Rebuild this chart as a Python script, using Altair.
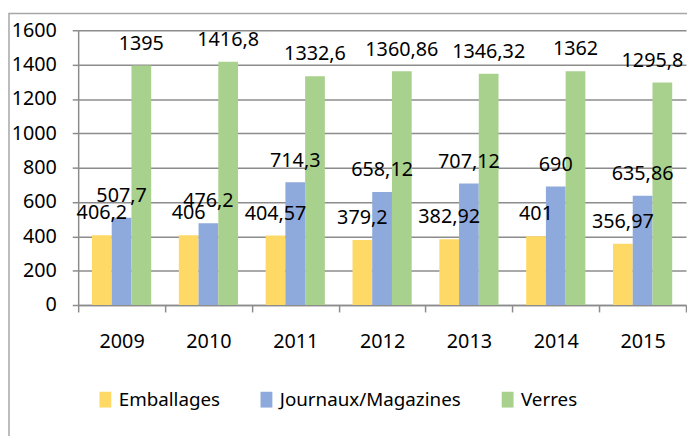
import altair as alt
import pandas as pd

years = ["2009", "2010", "2011", "2012", "2013", "2014", "2015"]
series = ["Emballages", "Journaux/Magazines", "Verres"]
emballages = [406.2, 406, 404.57, 379.2, 382.92, 401, 356.97]
journaux = [507.7, 476.2, 714.3, 658.12, 707.12, 690, 635.86]
verres = [1395, 1416.8, 1332.6, 1360.86, 1346.32, 1362, 1295.8]
colors = ["#FFD966", "#8EA9DB", "#A9D18E"]
y_ticks = [0, 200, 400, 600, 800, 1000, 1200, 1400, 1600]

rows = []
for s, vals in zip(series, [emballages, journaux, verres]):
    for yr, v in zip(years, vals):
        rows.append({"Annee": yr, "Serie": s, "Valeur": v,
                     "Label": f"{v:g}".replace(".", ",")})
df = pd.DataFrame(rows)

FONT = "Noto Sans"
FS = 20
GRID = "#8c8c8c"

x = alt.X("Annee:N", title=None, sort=years,
          scale=alt.Scale(paddingInner=0, paddingOuter=0),
          axis=alt.Axis(labelAngle=0, tickBand="extent", tickSize=7,
                        labelPadding=20, labelFont=FONT, labelFontSize=FS,
                        labelColor="black", domainColor=GRID, tickColor=GRID,
                        domainWidth=1.5, tickWidth=1.5, grid=False))
xo = alt.XOffset("Serie:N", sort=series,
                 scale=alt.Scale(paddingInner=0, paddingOuter=0.7))
y = alt.Y("Valeur:Q", title=None,
          scale=alt.Scale(domain=[0, 1600], nice=False),
          axis=alt.Axis(values=y_ticks, format="d", tickSize=6, labelPadding=16,
                        labelFont=FONT, labelFontSize=FS, labelColor="black",
                        domainColor=GRID, tickColor=GRID, gridColor=GRID,
                        domainWidth=1.5, tickWidth=1.5, gridWidth=1.5,
                        grid=True))

base = alt.Chart(df)

bars = base.mark_bar().encode(
    x=x, xOffset=xo, y=y,
    color=alt.Color("Serie:N", sort=series,
                    scale=alt.Scale(domain=series, range=colors),
                    legend=alt.Legend(orient="none", legendX=18, legendY=364,
                                      direction="horizontal", title=None,
                                      symbolType="M-0.75,-1H0.75V1H-0.75Z",
                                      symbolSize=256, symbolStrokeWidth=0,
                                      labelFont=FONT, labelFontSize=19,
                                      labelColor="black", labelOffset=4,
                                      columnPadding=37, padding=0,
                                      labelLimit=400)),
)

edge = (alt.datum.Annee == "2015") & (alt.datum.Serie == "Verres")

labels = base.mark_text(font=FONT, fontSize=FS, color="black",
                        baseline="alphabetic", dy=-16).encode(
    x=x, xOffset=xo, y=y, text="Label:N").transform_filter(~edge)

labels_edge = base.mark_text(font=FONT, fontSize=FS, color="black",
                             baseline="alphabetic", dy=-16, dx=-10).encode(
    x=x, xOffset=xo, y=y, text="Label:N").transform_filter(edge)

border = alt.Chart(alt.Data(values=[{"a": 1}])).mark_rect(
    filled=False, stroke="#a6a6a6", strokeWidth=1.5).encode(
    x=alt.value(-70), x2=alt.value(720), y=alt.value(-17), y2=alt.value(520))

chart = alt.layer(bars, labels, labels_edge, border).properties(
    width=615, height=278,
    autosize=alt.AutoSizeParams(type="none"),
    padding={"left": 71, "top": 20, "right": 1, "bottom": 130},
    background="white",
).configure_view(strokeWidth=0)

chart.save("out.html", embed_options={"renderer": "svg", "actions": False})
